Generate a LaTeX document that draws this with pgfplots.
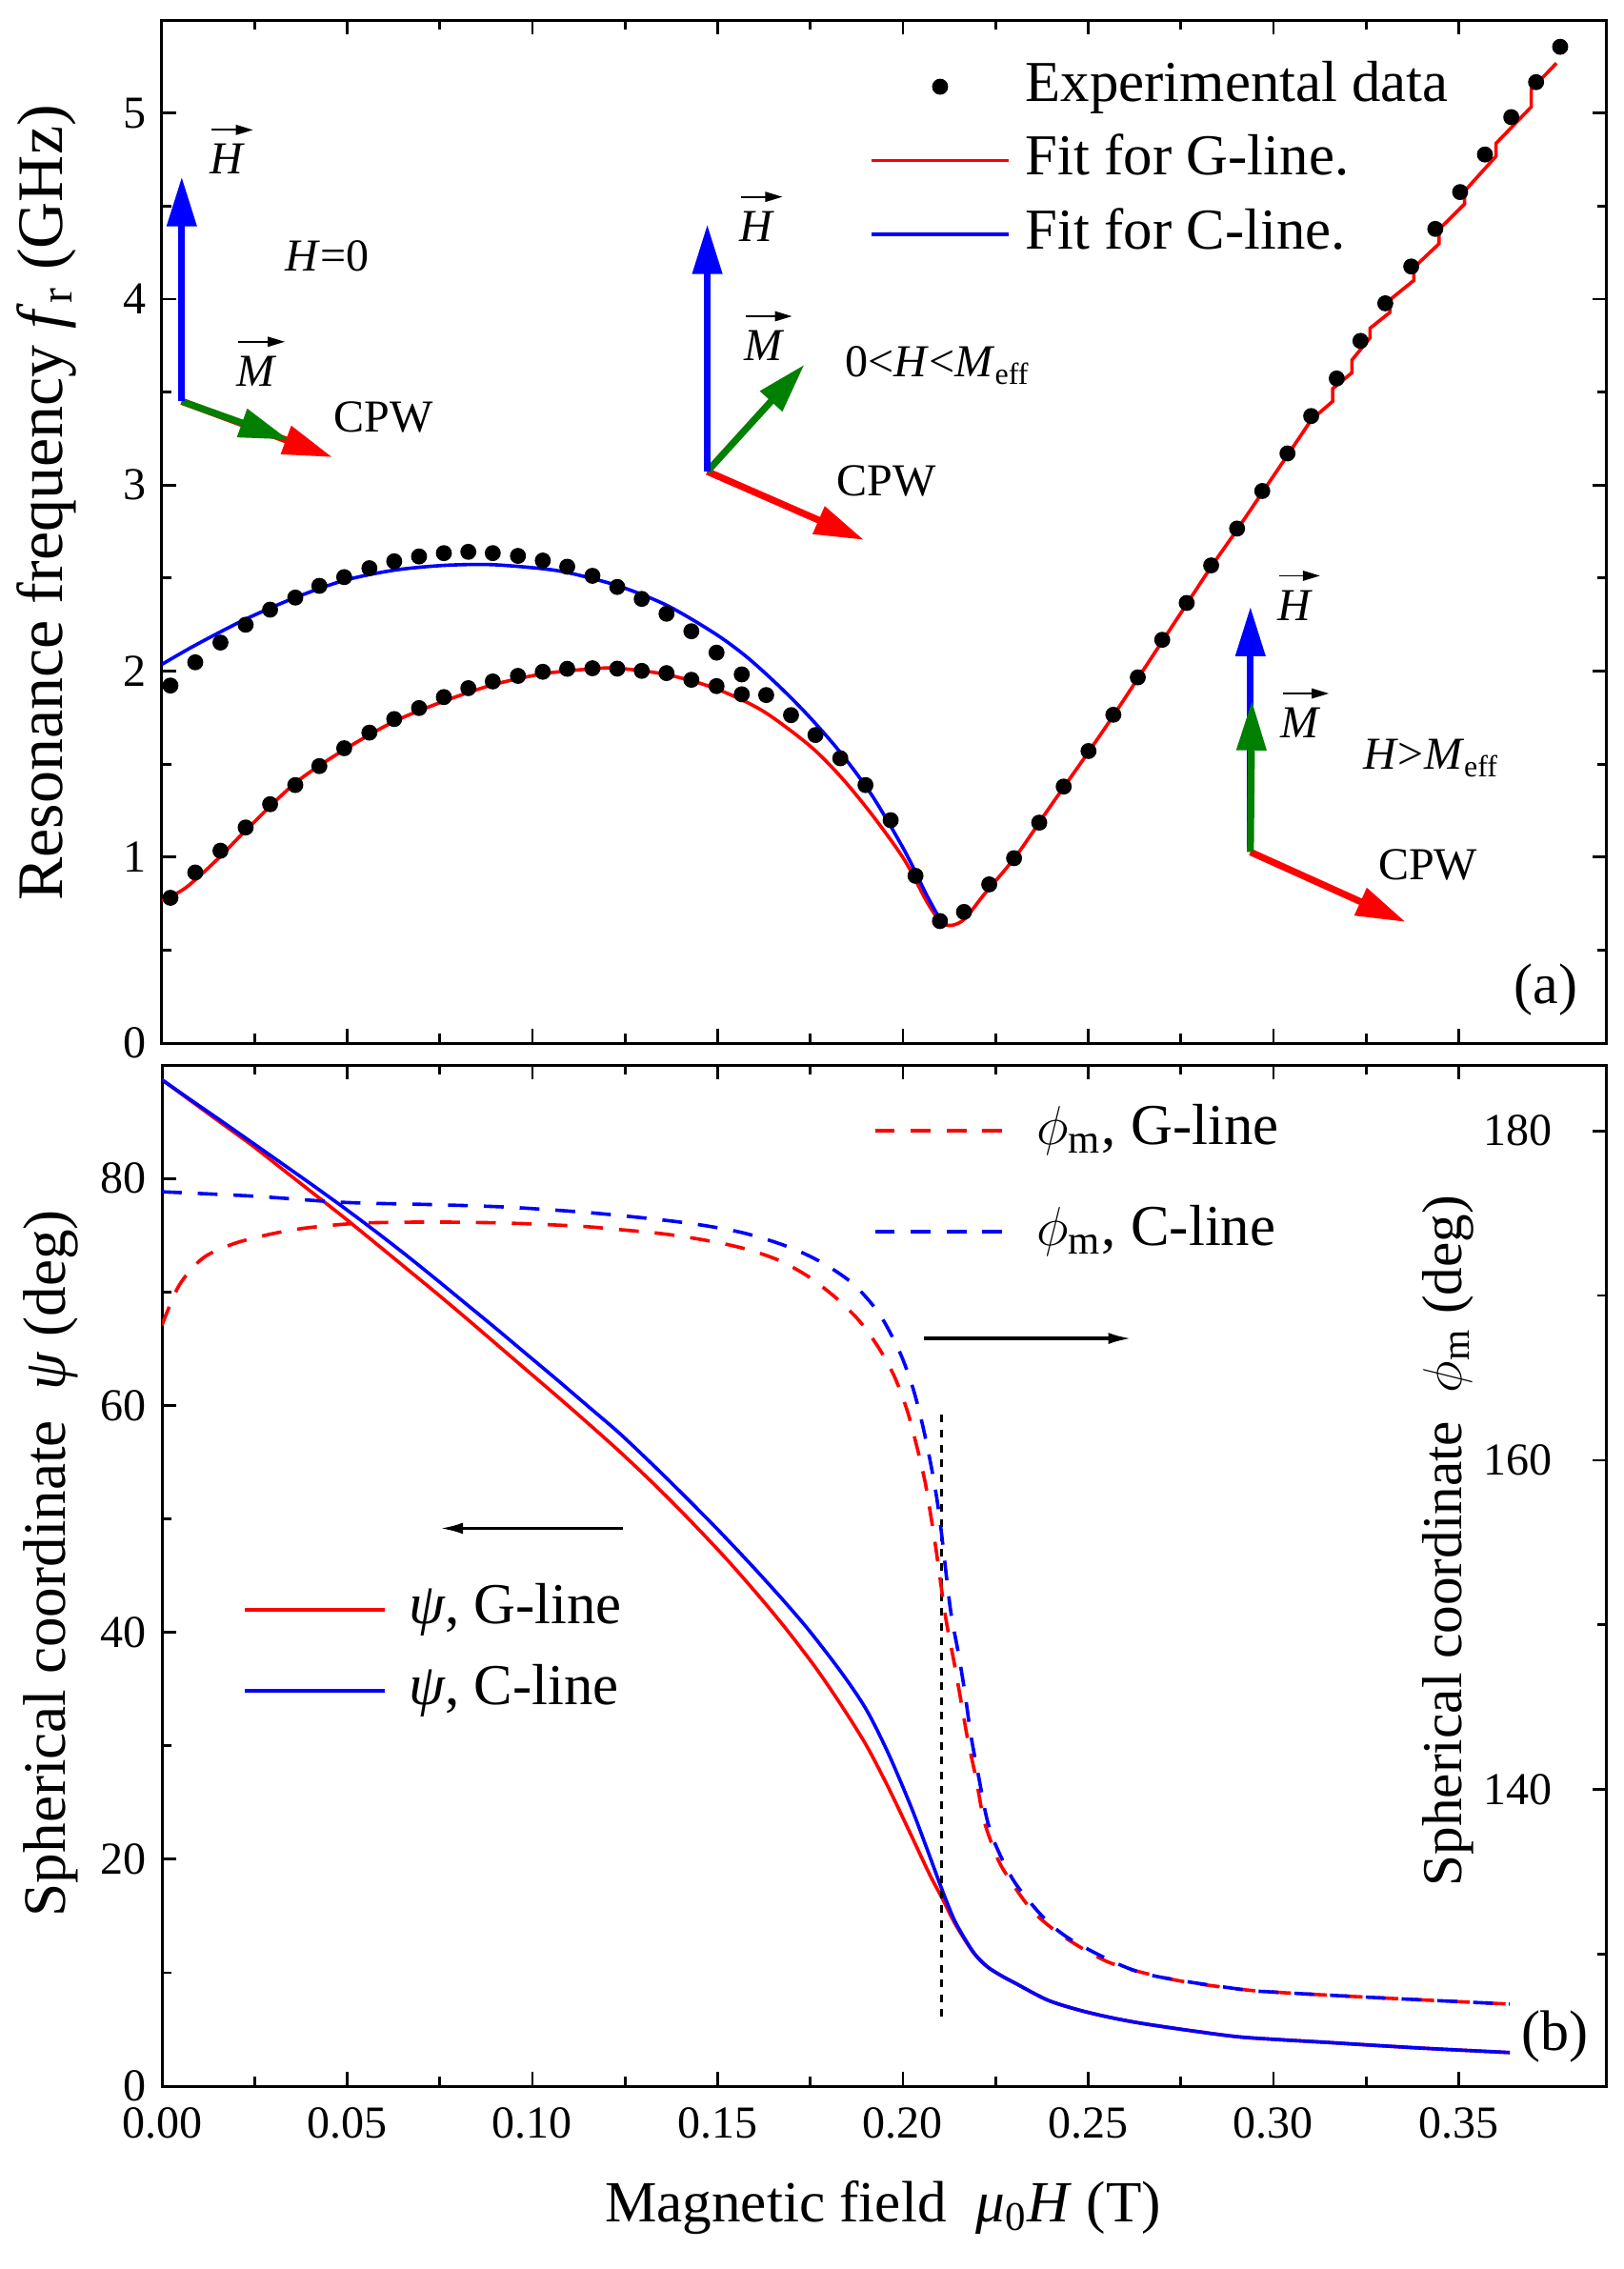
\documentclass[border=0pt]{standalone}
\usepackage{fontspec}
\setmainfont{Liberation Serif}
\usepackage{pgfplots}
\pgfplotsset{compat=1.18}
\usetikzlibrary{arrows.meta}
\definecolor{mygreen}{RGB}{0,128,0}
\newcommand{\tickfont}{\fontsize{12}{14}\selectfont}
\newcommand{\legfont}{\fontsize{15.2}{18}\selectfont}
\newcommand{\insfont}{\fontsize{12}{14}\selectfont}
\newcommand{\panfont}{\fontsize{15}{18}\selectfont}
\tikzset{inarrow/.style={line width=1.8pt, -{Triangle[length=13pt,width=7.5pt]}}}
% vector label: letter node with a thin arrow above it
\newcommand{\vlab}[3]{%
  \node[font=\insfont, inner sep=0pt] (vl) at (axis cs:#1,#2) {\textit{#3}};
  \draw[line width=0.45pt, -{Triangle[length=4.5pt,width=2.6pt]}]
    ([xshift=0.6pt,yshift=3.6pt]vl.north west) -- ([xshift=1.8pt,yshift=3.6pt]vl.north east);}
\pgfplotsset{
  common/.style={
    scale only axis, width=379.25pt,
    xmin=0, xmax=0.39,
    tick align=inside,
    major tick length=3.8pt, minor tick length=2.4pt,
    every tick/.style={black, line width=0.7pt},
    axis line style={line width=0.75pt},
    /pgf/number format/assume math mode=true,
    ticklabel style={font=\tickfont, inner sep=0.5pt},
    legend cell align=left,
    legend image code/.code={\draw[##1] (0pt,0pt) -- (36pt,0pt);},
  },
}
\begin{document}
\begin{tikzpicture}
% ---------------- panel (a) ----------------
\begin{axis}[common,
  at={(42.5pt,-5.25pt)}, anchor=north west, height=268.5pt,
  ymin=0, ymax=5.5,
  xtick={0,0.05,0.10,0.15,0.20,0.25,0.30,0.35}, xticklabels={},
  minor x tick num=1,
  ytick={0,1,2,3,4,5}, minor y tick num=1,
  yticklabel style={xshift=-3.5pt},
  ylabel={Resonance frequency \textit{f}\textsubscript{r} (GHz)},
  ylabel style={font=\fontsize{17}{20}\selectfont, at={(axis description cs:-0.0798,0.528)}, anchor=center},
  legend style={draw=none, fill=none, at={(0.4894,0.9663)}, anchor=north west,
    font=\legfont, inner sep=0pt, row sep=2.9pt, column sep=3pt,
    nodes={inner sep=1pt, text height=11pt, text depth=3.5pt}},
]
\addplot[only marks, mark=*, mark size=1.9pt, black,
  legend image code/.code={\fill[black] (18pt,0pt) circle (1.9pt);}] coordinates {
(0.0023,0.781)(0.0090,0.917)(0.0158,1.034)(0.0226,1.159)(0.0292,1.284)(0.0360,1.387)
(0.0425,1.489)(0.0492,1.585)(0.0560,1.669)(0.0627,1.742)(0.0694,1.801)(0.0761,1.860)
(0.0827,1.908)(0.0893,1.944)(0.0961,1.974)(0.1028,1.996)(0.1094,2.012)(0.1162,2.015)
(0.1229,2.013)(0.1295,2.001)(0.1362,1.989)(0.1429,1.953)(0.1497,1.919)(0.1565,1.875)
(0.0023,1.922)(0.0090,2.047)(0.0158,2.153)(0.0226,2.249)(0.0292,2.330)(0.0360,2.395)
(0.0425,2.458)(0.0492,2.505)(0.0560,2.553)(0.0627,2.590)(0.0694,2.616)(0.0761,2.634)
(0.0827,2.641)(0.0893,2.634)(0.0961,2.619)(0.1028,2.594)(0.1094,2.561)(0.1162,2.512)
(0.1229,2.452)(0.1295,2.388)(0.1362,2.308)(0.1429,2.214)(0.1497,2.099)(0.1565,1.982)
(0.1631,1.871)(0.1698,1.763)(0.1764,1.656)(0.1831,1.531)(0.1899,1.387)(0.1967,1.198)
(0.2034,0.899)(0.2100,0.656)(0.2165,0.705)(0.2233,0.853)(0.2300,0.994)(0.2368,1.185)
(0.2434,1.379)(0.2501,1.570)(0.2568,1.765)(0.2634,1.966)(0.2700,2.168)(0.2766,2.366)
(0.2832,2.568)(0.2902,2.766)(0.2970,2.968)(0.3038,3.170)(0.3102,3.371)(0.3171,3.573)
(0.3235,3.775)(0.3302,3.977)(0.3372,4.175)(0.3437,4.377)(0.3504,4.575)(0.3571,4.777)
(0.3642,4.978)(0.3709,5.166)(0.3774,5.356)
};
\addlegendentry{Experimental data}
\addplot[red, line width=0.9pt, smooth, tension=0.5] coordinates {
(0.0000,0.765)(0.0065,0.836)(0.0153,0.994)(0.0225,1.141)(0.0360,1.398)(0.0492,1.577)
(0.0626,1.728)(0.0761,1.838)(0.0893,1.926)(0.1028,1.985)(0.1160,2.012)(0.1233,2.015)
(0.1362,1.981)(0.1490,1.909)(0.1619,1.789)(0.1747,1.601)(0.1833,1.430)(0.1918,1.224)
(0.2004,0.985)(0.2064,0.762)(0.2102,0.651)(0.2132,0.633)(0.2167,0.668)(0.2218,0.796)
(0.2304,1.002)(0.2390,1.250)(0.2434,1.375)(0.2501,1.565)(0.2568,1.760)(0.2634,1.960)
(0.2700,2.160)(0.2766,2.360)(0.2832,2.560)(0.2902,2.760)(0.2970,2.960)(0.3038,3.160)
(0.3102,3.350)
};
\addlegendentry{Fit for G-line.}
\addplot[blue, line width=0.9pt, smooth, tension=0.5] coordinates {
(0.0000,2.036)(0.0090,2.139)(0.0225,2.278)(0.0360,2.395)(0.0492,2.487)(0.0626,2.542)
(0.0761,2.568)(0.0890,2.572)(0.1028,2.550)(0.1105,2.525)(0.1233,2.457)(0.1362,2.354)
(0.1490,2.205)(0.1576,2.080)(0.1662,1.926)(0.1747,1.755)(0.1833,1.558)(0.1918,1.327)
(0.2004,1.036)(0.2064,0.796)(0.2102,0.659)
};
\addlegendentry{Fit for C-line.}
\addplot[red, line width=0.9pt, forget plot] coordinates {
(0.3102,3.350)(0.3160,3.450)(0.3160,3.518)(0.3212,3.604)(0.3212,3.672)(0.3261,3.792)
(0.3261,3.843)(0.3315,3.929)(0.3315,3.997)(0.3379,4.100)(0.3379,4.169)(0.3447,4.297)
(0.3447,4.374)(0.3516,4.511)(0.3516,4.580)(0.3601,4.768)(0.3601,4.837)(0.3696,5.033)
(0.3696,5.127)(0.3764,5.268)
};
% inset 1: H = 0
\draw[inarrow, red] (axis cs:0.00535,3.45) -- (axis cs:0.0460,3.150);
\draw[inarrow, mygreen] (axis cs:0.00535,3.45) -- (axis cs:0.0342,3.244);
\draw[inarrow, blue] (axis cs:0.00535,3.45) -- (axis cs:0.00535,4.657);
\vlab{0.0178}{4.751}{H}
\node[font=\insfont] at (axis cs:0.0447,4.229) {\textit{H}=0};
\vlab{0.0257}{3.612}{M}
\node[font=\insfont] at (axis cs:0.0598,3.364) {CPW};
% inset 2
\draw[inarrow, red] (axis cs:0.1472,3.073) -- (axis cs:0.1895,2.705);
\draw[inarrow, mygreen] (axis cs:0.1472,3.073) -- (axis cs:0.1734,3.647);
\draw[inarrow, blue] (axis cs:0.1472,3.073) -- (axis cs:0.1472,4.401);
\vlab{0.1607}{4.391}{H}
\vlab{0.1626}{3.749}{M}
\node[font=\insfont] at (axis cs:0.2094,3.643) {0<\textit{H}<\textit{M}\textsubscript{eff}};
\node[font=\insfont] at (axis cs:0.1955,3.020) {CPW};
% inset 3
\draw[inarrow, red] (axis cs:0.2938,1.027) -- (axis cs:0.3357,0.651);
\draw[inarrow, blue] (axis cs:0.2938,1.027) -- (axis cs:0.2938,2.346);
\draw[inarrow, mygreen] (axis cs:0.2938,1.027) -- (axis cs:0.2942,1.840);
\vlab{0.3058}{2.354}{H}
\vlab{0.3075}{1.721}{M}
\node[font=\insfont] at (axis cs:0.3426,1.532) {\textit{H}>\textit{M}\textsubscript{eff}};
\node[font=\insfont] at (axis cs:0.3417,0.959) {CPW};
\node[font=\panfont] at (rel axis cs:0.958,0.052) {(a)};
\end{axis}
% ---------------- panel (b), left axis ----------------
\begin{axis}[common,
  at={(42.5pt,-279.5pt)}, anchor=north west, height=268pt,
  ymin=0, ymax=90,
  xtick={0,0.05,0.10,0.15,0.20,0.25,0.30,0.35},
  xticklabels={0.00,0.05,0.10,0.15,0.20,0.25,0.30,0.35},
  xticklabel style={yshift=-5pt},
  yticklabel style={xshift=-3.5pt},
  minor x tick num=1,
  ytick={0,20,40,60,80}, minor ytick={10,30,50,70}, ytick pos=left,
  xlabel={Magnetic field \ \textit{μ}\textsubscript{0}\textit{H} (T)},
  xlabel style={font=\fontsize{15.3}{18}\selectfont, at={(axis description cs:0.499,0)}, anchor=center, yshift=-32pt},
  ylabel={Spherical coordinate \ \textit{ψ} (deg)},
  ylabel style={font=\fontsize{15.8}{18}\selectfont, at={(axis description cs:-0.0771,0.512)}, anchor=center},
  legend style={draw=none, fill=none, at={(0.0554,0.4982)}, anchor=north west,
    font=\legfont, inner sep=0pt, row sep=4.75pt, column sep=5pt,
    nodes={inner sep=1pt, text height=11pt, text depth=3.5pt}},
  legend image code/.code={\draw[#1] (0pt,0pt) -- (36.75pt,0pt);},
]
\addplot[red, line width=0.9pt, smooth, tension=0.5] coordinates {
(0.0000,88.70)(0.0081,86.77)(0.0163,84.82)(0.0244,82.90)(0.0326,80.80)(0.0408,78.70)
(0.0490,76.60)(0.0572,74.42)(0.0653,72.25)(0.0735,70.05)(0.0817,67.80)(0.0899,65.50)
(0.0981,63.20)(0.1065,60.85)(0.1149,58.45)(0.1233,56.00)(0.1319,53.35)(0.1405,50.55)
(0.1490,47.65)(0.1550,45.50)(0.1619,42.90)(0.1687,40.20)(0.1764,36.90)(0.1833,33.60)
(0.1901,30.05)(0.1961,26.30)(0.2021,22.20)(0.2073,18.60)(0.2107,16.50)(0.2141,14.30)
(0.2184,12.05)(0.2210,11.05)(0.2235,10.35)(0.2270,9.65)(0.2304,9.06)(0.2390,7.59)
(0.2476,6.70)(0.2560,6.05)(0.2647,5.52)(0.2775,4.90)(0.2904,4.35)(0.3025,4.08)
(0.3147,3.85)(0.3270,3.60)(0.3400,3.35)(0.3520,3.15)(0.3638,2.96)
};
\addlegendentry{\textit{ψ}, G-line}
\addplot[blue, line width=0.9pt, smooth, tension=0.5] coordinates {
(0.0000,88.70)(0.0081,86.85)(0.0163,85.00)(0.0244,83.15)(0.0326,81.27)(0.0408,79.38)
(0.0490,77.45)(0.0572,75.45)(0.0653,73.40)(0.0735,71.25)(0.0817,69.05)(0.0899,66.85)
(0.0981,64.60)(0.1065,62.30)(0.1149,59.95)(0.1233,57.60)(0.1319,54.95)(0.1405,52.20)
(0.1490,49.40)(0.1550,47.35)(0.1610,45.25)(0.1679,42.75)(0.1747,40.15)(0.1833,36.50)
(0.1901,33.20)(0.1961,29.30)(0.2021,24.70)(0.2064,21.00)(0.2107,17.20)(0.2141,14.50)
(0.2184,12.10)(0.2210,11.05)(0.2235,10.35)(0.2270,9.65)(0.2304,9.06)(0.2390,7.59)
(0.2476,6.70)(0.2560,6.05)(0.2647,5.52)(0.2775,4.90)(0.2904,4.35)(0.3025,4.08)
(0.3147,3.85)(0.3270,3.60)(0.3400,3.35)(0.3520,3.15)(0.3638,2.96)
};
\addlegendentry{\textit{ψ}, C-line}
\addplot[black, line width=0.85pt, dash pattern=on 2pt off 1.9pt, forget plot] coordinates {
(0.2105,6.1)(0.2105,59.4)};
\draw[line width=0.8pt, -{Latex[length=6pt,width=3pt]}] (axis cs:0.1244,49.16) -- (axis cs:0.0751,49.16);
\draw[line width=0.8pt, -{Latex[length=6pt,width=3pt]}] (axis cs:0.2057,65.9) -- (axis cs:0.2616,65.9);
\node[font=\panfont] at (rel axis cs:0.964,0.0485) {(b)};
\end{axis}
% ---------------- panel (b), right axis ----------------
\begin{axis}[common,
  at={(42.5pt,-279.5pt)}, anchor=north west, height=268pt,
  hide x axis, axis y line*=right,
  ymin=122, ymax=184,
  ytick={140,160,180}, minor ytick={130,150,170},
  yticklabel style={anchor=east, xshift=-13.75pt},
  legend style={draw=none, fill=none, at={(0.4918,0.9674)}, anchor=north west,
    font=\legfont, inner sep=0pt, row sep=10pt, column sep=7pt,
    nodes={inner sep=1pt, text height=11pt, text depth=3.5pt}},
  legend image code/.code={\draw[#1] (0pt,0pt) -- (34pt,0pt);},
]
\addplot[red, line width=0.9pt, dash pattern=on 5.2pt off 4.2pt, smooth, tension=0.5] coordinates {
(0.0000,168.2)(0.0047,170.64)(0.0111,172.28)(0.0194,173.15)(0.0293,173.73)(0.0391,174.11)
(0.0539,174.40)(0.0735,174.46)(0.0932,174.40)(0.1128,174.21)(0.1233,174.01)(0.1345,173.77)
(0.1430,173.50)(0.1516,173.15)(0.1593,172.72)(0.1670,172.09)(0.1747,171.12)(0.1824,169.77)
(0.1884,168.42)(0.1936,166.78)(0.1978,165.04)(0.2013,162.92)(0.2038,160.80)(0.2060,158.67)
(0.2077,156.40)(0.2090,154.50)(0.2115,150.50)(0.2137,147.87)(0.2154,145.74)(0.2175,143.04)
(0.2197,140.72)(0.2218,138.21)(0.2244,136.48)(0.2271,135.15)(0.2347,132.71)(0.2433,131.09)
(0.2561,129.47)(0.2733,128.45)(0.2904,127.90)(0.3008,127.70)(0.3288,127.36)(0.3638,126.98)
};
\addlegendentry{\ensuremath{\phi}\textsubscript{m}, G-line}
\addplot[blue, line width=0.9pt, dash pattern=on 5.2pt off 4.2pt, smooth, tension=0.5] coordinates {
(0.0000,176.30)(0.0244,176.04)(0.0490,175.66)(0.0735,175.52)(0.0932,175.37)(0.1128,175.08)
(0.1250,174.83)(0.1370,174.54)(0.1465,174.25)(0.1559,173.86)(0.1636,173.38)(0.1713,172.76)
(0.1790,171.89)(0.1867,170.68)(0.1936,168.90)(0.1991,166.59)(0.2026,164.46)(0.2051,162.34)
(0.2073,160.03)(0.2090,157.90)(0.2103,155.78)(0.2128,151.00)(0.2150,148.25)(0.2167,145.93)
(0.2184,143.23)(0.2205,140.72)(0.2227,138.20)(0.2253,136.50)(0.2304,134.30)(0.2390,132.00)
(0.2476,130.60)(0.2647,128.86)(0.2904,127.90)(0.3008,127.70)(0.3288,127.36)(0.3638,126.98)
};
\addlegendentry{\ensuremath{\phi}\textsubscript{m}, C-line}
\node[rotate=90, font=\fontsize{14.8}{17}\selectfont] at (rel axis cs:0.890,0.534) {Spherical coordinate \ \ensuremath{\phi}\textsubscript{m} (deg)};
\end{axis}
\pgfresetboundingbox
\path[use as bounding box] (0pt,0pt) rectangle (426.25pt,-595.5pt);
\end{tikzpicture}
\end{document}
